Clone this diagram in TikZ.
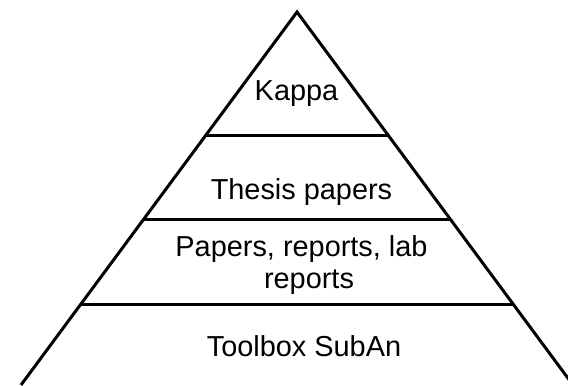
\documentclass[tikz,border=0pt]{standalone}
\usepackage{fontspec}
\setmainfont{Liberation Sans}
\usetikzlibrary{calc}
\begin{document}
\begin{tikzpicture}[x=1bp,y=-1bp,
  edge/.style={line width=3bp,line join=miter,black},
  label/.style={anchor=base,inner sep=0pt,font=\fontsize{29}{34}\selectfont}]
  \useasboundingbox (0,0) rectangle (568,385);
  \clip (0,0) rectangle (568,385);
  % pyramid outline
  \coordinate (apex) at (297,12);
  \coordinate (bl) at (21,385);
  \coordinate (br) at (573,385);
  \draw[edge] (bl) -- (apex) -- (br);
  % tier dividers
  \foreach \t/\n in {0.33/a,0.556/b,0.783/c}{
    \coordinate (l\n) at ($(apex)!\t!(bl)$);
    \coordinate (r\n) at ($(apex)!\t!(br)$);
    \draw[edge] (l\n) -- (r\n);
  }
  % tier labels
  \node[label] (kappa) at (296.5,100.5) {Kappa};
  \node[label] (thesis) at (301.5,199) {Thesis papers};
  \node[label] (papers1) at (301.5,256.5) {Papers, reports, lab};
  \node[label] (papers2) at (309,288.3) {reports};
  \node[label] (toolbox) at (304,356) {Toolbox SubAn};
\end{tikzpicture}
\end{document}
